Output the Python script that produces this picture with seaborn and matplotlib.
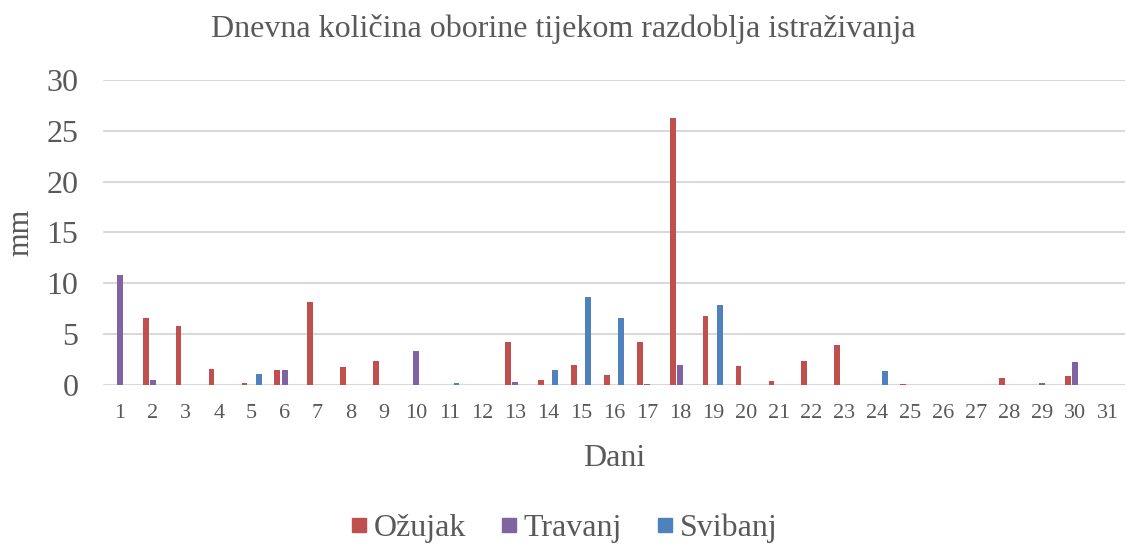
import numpy as np
import pandas as pd
import matplotlib
matplotlib.use("Agg")
import matplotlib.pyplot as plt
import seaborn as sns
from matplotlib.lines import Line2D

days = [str(d) for d in range(1, 32)]
ozujak = [0, 6.6, 5.8, 1.6, 0.2, 1.5, 8.2, 1.8, 2.4, 0, 0, 0, 4.2, 0.5, 2.0, 1.0,
          4.2, 26.3, 6.8, 1.9, 0.4, 2.4, 3.9, 0, 0.1, 0, 0, 0.7, 0, 0.9, 0]
travanj = [10.8, 0.5, 0, 0, 0, 1.5, 0, 0, 0, 3.3, 0, 0, 0.3, 0, 0, 0,
           0.1, 2.0, 0, 0, 0, 0, 0, 0, 0, 0, 0, 0, 0.2, 2.3, 0]
svibanj = [0, 0, 0, 0, 1.1, 0, 0, 0, 0, 0, 0.2, 0, 0, 1.5, 8.7, 6.6,
           0, 0, 7.9, 0, 0, 0, 0, 1.4, 0, 0, 0, 0, 0, 0, 0]
series_names = ["Ožujak", "Travanj", "Svibanj"]
colors = ["#C0504D", "#8064A2", "#4F81BD"]

df = pd.DataFrame({
    "Dani": days * 3,
    "mm": ozujak + travanj + svibanj,
    "Mjesec": [series_names[0]] * 31 + [series_names[1]] * 31 + [series_names[2]] * 31,
})

sns.set_theme(style="white")
plt.rcParams["font.family"] = ["Liberation Serif", "DejaVu Serif"]
text_color = "#595959"

fig = plt.figure(figsize=(11.27, 5.46), dpi=100)
ax = fig.add_axes([0.0918, 0.2949, 0.906, 0.5586])

sns.barplot(data=df, x="Dani", y="mm", hue="Mjesec", order=days,
            hue_order=series_names, palette=colors, width=0.66, gap=0.2,
            errorbar=None, ax=ax, legend=False, saturation=1, linewidth=0)

ax.set_xlim(-0.5, 30.5)
ax.set_ylim(0, 30)
ax.set_yticks(range(0, 31, 5))
ax.yaxis.grid(True, color="#D9D9D9", linewidth=1.5)
ax.set_axisbelow(True)
for s in ax.spines.values():
    s.set_visible(False)
ax.tick_params(axis="x", labelsize=16, colors=text_color, length=0, pad=14)
ax.tick_params(axis="y", labelsize=23, colors=text_color, length=0, pad=18)
ax.set_xlabel("Dani", fontsize=23, color=text_color, labelpad=15)
ax.set_ylabel("mm", fontsize=22, color=text_color, labelpad=8)

fig.suptitle("Dnevna količina oborine tijekom razdoblja istraživanja",
             fontsize=23, color=text_color, y=0.975)

handles = [Line2D([0], [0], marker="s", linestyle="none", markersize=10,
                  markerfacecolor=c, markeredgecolor=c) for c in colors]
fig.legend(handles, series_names, loc="center", bbox_to_anchor=(0.5, 0.033),
           ncol=3, frameon=False, fontsize=23, handlelength=0.6,
           handletextpad=0.15, columnspacing=1.05, labelcolor=text_color)

fig.savefig("out.png", dpi=100)
